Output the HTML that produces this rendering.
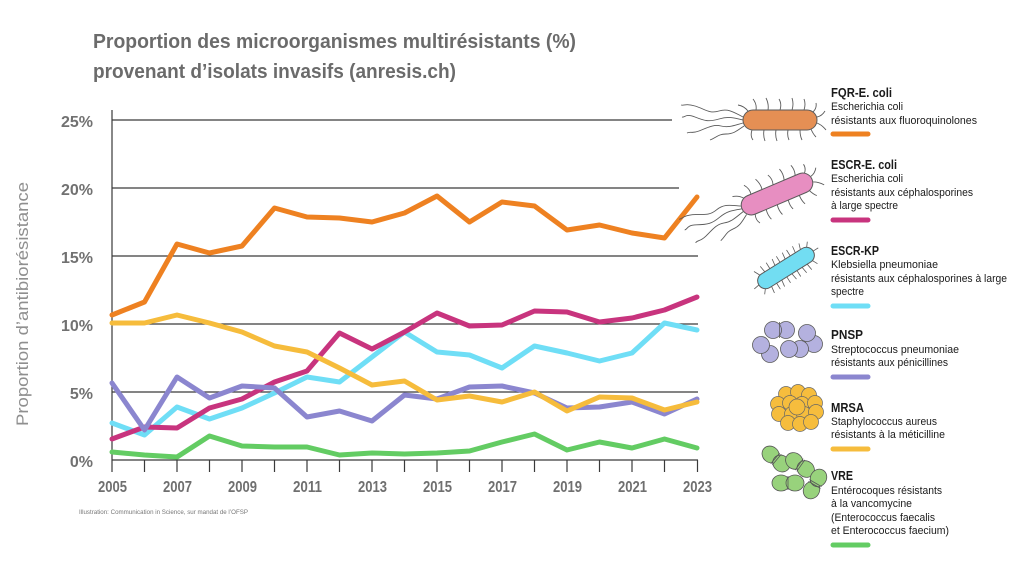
<!DOCTYPE html>
<html><head><meta charset="utf-8"><style>
html,body{margin:0;padding:0;background:#fff;}
svg{display:block;font-family:"Liberation Sans",sans-serif;}
</style></head><body>
<svg width="1024" height="574" viewBox="0 0 1024 574" xmlns="http://www.w3.org/2000/svg">
<rect width="1024" height="574" fill="#fff"/>
<!-- Title -->
<text x="93" y="48" font-size="20" font-weight="bold" fill="#6b6b6b" textLength="483" lengthAdjust="spacingAndGlyphs">Proportion des microorganismes multirésistants (%)</text>
<text x="93" y="78" font-size="20" font-weight="bold" fill="#6b6b6b" textLength="363" lengthAdjust="spacingAndGlyphs">provenant d’isolats invasifs (anresis.ch)</text>

<!-- Y axis label -->
<text transform="translate(28,304) rotate(-90)" text-anchor="middle" font-size="17" fill="#8f8f8f" textLength="244" lengthAdjust="spacingAndGlyphs">Proportion d’antibiorésistance</text>

<!-- gridlines -->
<g stroke="#3a3a3a" stroke-width="1.2">
<line x1="112" y1="120" x2="672" y2="120"/>
<line x1="112" y1="188" x2="679" y2="188"/>
<line x1="112" y1="256" x2="698" y2="256"/>
<line x1="112" y1="324" x2="698" y2="324"/>
<line x1="112" y1="392" x2="698" y2="392"/>
<line x1="112" y1="460" x2="698" y2="460"/>
<line x1="112" y1="110" x2="112" y2="472"/>
<line x1="144.5" y1="460" x2="144.5" y2="472"/>
<line x1="177" y1="460" x2="177" y2="472"/>
<line x1="209.5" y1="460" x2="209.5" y2="472"/>
<line x1="242" y1="460" x2="242" y2="472"/>
<line x1="274.5" y1="460" x2="274.5" y2="472"/>
<line x1="307" y1="460" x2="307" y2="472"/>
<line x1="339.5" y1="460" x2="339.5" y2="472"/>
<line x1="372" y1="460" x2="372" y2="472"/>
<line x1="404.5" y1="460" x2="404.5" y2="472"/>
<line x1="437" y1="460" x2="437" y2="472"/>
<line x1="469.5" y1="460" x2="469.5" y2="472"/>
<line x1="502" y1="460" x2="502" y2="472"/>
<line x1="534.5" y1="460" x2="534.5" y2="472"/>
<line x1="567" y1="460" x2="567" y2="472"/>
<line x1="599.5" y1="460" x2="599.5" y2="472"/>
<line x1="632" y1="460" x2="632" y2="472"/>
<line x1="664.5" y1="460" x2="664.5" y2="472"/>
<line x1="697.5" y1="460" x2="697.5" y2="472"/>
</g>

<!-- Y tick labels -->
<g font-size="16" font-weight="bold" fill="#717171" text-anchor="end">
<text x="93" y="127">25%</text>
<text x="93" y="195">20%</text>
<text x="93" y="263">15%</text>
<text x="93" y="331">10%</text>
<text x="93" y="399">5%</text>
<text x="93" y="467">0%</text>
</g>

<!-- X tick labels -->
<g font-size="16" font-weight="bold" fill="#6f6f6f">
<text x="98" y="492" textLength="29" lengthAdjust="spacingAndGlyphs">2005</text>
<text x="163" y="492" textLength="29" lengthAdjust="spacingAndGlyphs">2007</text>
<text x="228" y="492" textLength="29" lengthAdjust="spacingAndGlyphs">2009</text>
<text x="293" y="492" textLength="29" lengthAdjust="spacingAndGlyphs">2011</text>
<text x="358" y="492" textLength="29" lengthAdjust="spacingAndGlyphs">2013</text>
<text x="423" y="492" textLength="29" lengthAdjust="spacingAndGlyphs">2015</text>
<text x="488" y="492" textLength="29" lengthAdjust="spacingAndGlyphs">2017</text>
<text x="553" y="492" textLength="29" lengthAdjust="spacingAndGlyphs">2019</text>
<text x="618" y="492" textLength="29" lengthAdjust="spacingAndGlyphs">2021</text>
<text x="683" y="492" textLength="29" lengthAdjust="spacingAndGlyphs">2023</text>
</g>

<text x="79" y="514" font-size="6" fill="#777" textLength="169" lengthAdjust="spacingAndGlyphs">Illustration: Communication in Science, sur mandat de l’OFSP</text>

<!-- Series -->
<g fill="none" stroke-width="5" stroke-linejoin="round" stroke-linecap="round">
<polyline stroke="#63CC63" points="112,452 144.5,455 177,457 209.5,436 242,446 274.5,447 307,447 339.5,455 372,453 404.5,454 437,453 469.5,451 502,442 534.5,434 567,450 599.5,442 632,448 664.5,439 697,448"/>
<polyline stroke="#6FDEF6" points="112,423 144.5,435 177,407 209.5,419 242,408 274.5,393 307,377 339.5,382 372,357 404.5,332 437,352 469.5,355 502,368 534.5,346 567,353 599.5,361 632,353 664.5,323 697,330"/>
<polyline stroke="#C8347E" points="112,439 144.5,427 177,428 209.5,408 242,399 274.5,382 307,371 339.5,333 372,349 404.5,332 437,313 469.5,326 502,325 534.5,311 567,312 599.5,322 632,318 664.5,310 697,297"/>
<polyline stroke="#8B86CF" points="112,383 144.5,430 177,377 209.5,398 242,386 274.5,388 307,417 339.5,411 372,421 404.5,395 437,399 469.5,387 502,386 534.5,393 567,408 599.5,407 632,402 664.5,414 697,399"/>
<polyline stroke="#F6BC3C" points="112,323 144.5,323 177,315 209.5,323 242,332 274.5,346 307,352 339.5,368 372,385 404.5,381 437,400 469.5,396 502,402 534.5,392 567,411 599.5,397 632,398 664.5,410 697,402"/>
<polyline stroke="#EE8121" points="112,315 144.5,302 177,244 209.5,253 242,246 274.5,208 307,217 339.5,218 372,222 404.5,213 437,196 469.5,222 502,202 534.5,206 567,230 599.5,225 632,233 664.5,238 697,197"/>
</g>

<!-- Legend text -->
<g fill="#1a1a1a">
<text x="831" y="97" font-size="12.5" font-weight="bold" textLength="61" lengthAdjust="spacingAndGlyphs">FQR-E. coli</text>
<text x="831" y="110" font-size="11" textLength="72" lengthAdjust="spacingAndGlyphs">Escherichia coli</text>
<text x="831" y="124" font-size="11" textLength="146" lengthAdjust="spacingAndGlyphs">résistants aux fluoroquinolones</text>

<text x="831" y="169" font-size="12.5" font-weight="bold" textLength="66" lengthAdjust="spacingAndGlyphs">ESCR-E. coli</text>
<text x="831" y="182" font-size="11" textLength="72" lengthAdjust="spacingAndGlyphs">Escherichia coli</text>
<text x="831" y="196" font-size="11" textLength="142" lengthAdjust="spacingAndGlyphs">résistants aux céphalosporines</text>
<text x="831" y="209" font-size="11" textLength="67" lengthAdjust="spacingAndGlyphs">à large spectre</text>

<text x="831" y="255" font-size="12.5" font-weight="bold" textLength="48" lengthAdjust="spacingAndGlyphs">ESCR-KP</text>
<text x="831" y="268" font-size="11" textLength="107" lengthAdjust="spacingAndGlyphs">Klebsiella pneumoniae</text>
<text x="831" y="282" font-size="11" textLength="176" lengthAdjust="spacingAndGlyphs">résistants aux céphalosporines à large</text>
<text x="831" y="295" font-size="11" textLength="33" lengthAdjust="spacingAndGlyphs">spectre</text>

<text x="831" y="339" font-size="12.5" font-weight="bold" textLength="32" lengthAdjust="spacingAndGlyphs">PNSP</text>
<text x="831" y="353" font-size="11" textLength="128" lengthAdjust="spacingAndGlyphs">Streptococcus pneumoniae</text>
<text x="831" y="366" font-size="11" textLength="117" lengthAdjust="spacingAndGlyphs">résistants aux pénicillines</text>

<text x="831" y="412" font-size="12.5" font-weight="bold" textLength="33" lengthAdjust="spacingAndGlyphs">MRSA</text>
<text x="831" y="425" font-size="11" textLength="106" lengthAdjust="spacingAndGlyphs">Staphylococcus aureus</text>
<text x="831" y="438" font-size="11" textLength="114" lengthAdjust="spacingAndGlyphs">résistants à la méticilline</text>

<text x="831" y="480" font-size="12.5" font-weight="bold" textLength="22" lengthAdjust="spacingAndGlyphs">VRE</text>
<text x="831" y="494" font-size="11" textLength="111" lengthAdjust="spacingAndGlyphs">Entérocoques résistants</text>
<text x="831" y="507" font-size="11" textLength="81" lengthAdjust="spacingAndGlyphs">à la vancomycine</text>
<text x="831" y="521" font-size="11" textLength="104" lengthAdjust="spacingAndGlyphs">(Enterococcus faecalis</text>
<text x="831" y="534" font-size="11" textLength="118" lengthAdjust="spacingAndGlyphs">et Enterococcus faecium)</text>
</g>

<!-- Legend bars -->
<g stroke-width="5" stroke-linecap="round">
<line x1="833" y1="134" x2="868" y2="134" stroke="#EE8121"/>
<line x1="833" y1="220" x2="868" y2="220" stroke="#C8347E"/>
<line x1="833" y1="306" x2="868" y2="306" stroke="#6FDEF6"/>
<line x1="833" y1="377" x2="868" y2="377" stroke="#8B86CF"/>
<line x1="833" y1="449" x2="868" y2="449" stroke="#F6BC3C"/>
<line x1="833" y1="545" x2="868" y2="545" stroke="#63CC63"/>
</g>

<!-- Orange rod -->
<g transform="translate(780,120)" stroke="#5a5a5a" stroke-width="0.9" fill="none">
<path d="M-37,-3 c-8,-4 -14,-9 -24,-6 s-14,-2 -24,-5 s-10,0 -14,-1"/>
<path d="M-37,0 c-8,-2 -14,-4 -24,-1 s-14,2 -24,-2 s-10,1 -13,0"/>
<path d="M-37,3 c-8,2 -14,5 -22,3 s-14,2 -22,5 s-8,0 -12,2"/>
<path d="M-36,6 c-6,4 -10,8 -18,8 s-10,4 -16,6"/>
<path d="M-32,-9 q-4,-5 -10,-6 M-24,-10 q1,-6 -3,-11 M-12,-10 q1,-6 -2,-12 M0,-10 q2,-6 -1,-11 M12,-10 q2,-6 0,-12 M24,-10 q2,-6 0,-11 M33,-8 q4,-4 3,-9"/>
<path d="M-28,10 q-2,6 1,10 M-16,10 q-1,6 1,11 M-4,10 q-1,6 1,11 M8,10 q-1,6 1,10 M20,10 q0,6 2,10 M31,9 q2,5 5,8 M37,3 q5,2 9,7 M37,-3 q5,-1 8,-6"/>
<rect x="-37" y="-10" width="74" height="20" rx="10" fill="#E58F54" stroke-width="1"/>
</g>

<!-- Pink rod -->
<g transform="translate(777,194) rotate(-23)" stroke="#5a5a5a" stroke-width="0.9" fill="none">
<path d="M-38,-3 c-8,-4 -14,-9 -24,-6 s-14,-2 -24,-5 s-10,0 -14,-1"/>
<path d="M-38,0 c-8,-2 -14,-4 -24,-1 s-14,2 -24,-2 s-10,1 -13,0"/>
<path d="M-38,3 c-8,2 -14,5 -22,3 s-14,2 -22,5 s-8,0 -12,2"/>
<path d="M-36,7 c-6,4 -10,8 -18,8 s-10,4 -16,6"/>
<path d="M-32,-9 q-4,-5 -10,-6 M-24,-10 q1,-6 -3,-11 M-12,-10 q1,-6 -2,-12 M0,-10 q2,-6 -1,-11 M12,-10 q2,-6 0,-12 M24,-10 q2,-6 0,-11 M33,-8 q4,-4 3,-9"/>
<path d="M-28,10 q-2,6 1,10 M-16,10 q-1,6 1,11 M-4,10 q-1,6 1,11 M8,10 q-1,6 1,10 M20,10 q0,6 2,10 M31,9 q2,5 5,8 M38,3 q5,2 9,7 M38,-3 q5,-1 8,-6"/>
<rect x="-38" y="-10" width="76" height="20" rx="10" fill="#E78EC1" stroke-width="1"/>
</g>

<!-- Cyan rod -->
<g transform="translate(786,268) rotate(-32)" stroke="#5a5a5a" stroke-width="0.8" fill="none">
<path d="M-26,-8 l-3,-6 M-20,-8 l-1,-7 M-14,-8 l0,-7 M-8,-8 l1,-7 M-2,-8 l0,-7 M4,-8 l1,-7 M10,-8 l0,-7 M16,-8 l1,-7 M22,-8 l2,-6 M28,-6 l4,-5"/>
<path d="M-28,6 l-4,5 M-22,8 l-1,7 M-16,8 l0,7 M-10,8 l-1,7 M-4,8 l0,7 M2,8 l1,7 M8,8 l0,7 M14,8 l1,7 M20,8 l1,7 M26,7 l3,6 M32,0 l6,0 M-32,0 l-6,1"/>
<rect x="-32" y="-8" width="64" height="16" rx="8" fill="#72DDF2" stroke-width="1"/>
</g>

<!-- Purple cocci -->
<g fill="#B4B1DF" stroke="#5a5a5a" stroke-width="0.8">
<circle cx="786" cy="330" r="8.5"/><circle cx="773" cy="330" r="8.5"/>
<line x1="779.5" y1="322" x2="779.5" y2="338"/>
<circle cx="814" cy="344" r="8.5"/><circle cx="807" cy="333" r="8.5"/>
<circle cx="770" cy="354" r="8.5"/><circle cx="761" cy="345" r="8.5"/>
<circle cx="800" cy="349" r="8.5"/><circle cx="789" cy="349" r="8.5"/>
</g>

<!-- Yellow cluster -->
<g fill="#F6BD3D" stroke="#666" stroke-width="0.7">
<circle cx="786" cy="394" r="7.5"/><circle cx="798" cy="392" r="7.5"/><circle cx="809" cy="395" r="7.5"/>
<circle cx="778" cy="404" r="7.5"/><circle cx="790" cy="403" r="7.5"/><circle cx="802" cy="404" r="7.5"/><circle cx="815" cy="403" r="7.5"/>
<circle cx="779" cy="414" r="7.5"/><circle cx="792" cy="414" r="7.5"/><circle cx="804" cy="414" r="7.5"/><circle cx="816" cy="412" r="7.5"/>
<circle cx="788" cy="423" r="7.5"/><circle cx="800" cy="424" r="7.5"/><circle cx="811" cy="422" r="7.5"/>
<circle cx="797" cy="407" r="8"/>
</g>

<!-- Green diplococci -->
<g fill="#98D27C" stroke="#555" stroke-width="0.8">
<g transform="translate(776,459) rotate(40)"><ellipse cx="-7" cy="0" rx="9" ry="8"/><ellipse cx="7" cy="0" rx="9" ry="8"/><line x1="-1" y1="-7" x2="-1" y2="7"/><line x1="1" y1="-7" x2="1" y2="7"/></g>
<g transform="translate(800,465) rotate(35)"><ellipse cx="-7" cy="0" rx="9" ry="8"/><ellipse cx="7" cy="0" rx="9" ry="8"/><line x1="-1" y1="-7" x2="-1" y2="7"/><line x1="1" y1="-7" x2="1" y2="7"/></g>
<g transform="translate(788,483) rotate(0)"><ellipse cx="-7" cy="0" rx="9" ry="8"/><ellipse cx="7" cy="0" rx="9" ry="8"/><line x1="0" y1="-7" x2="0" y2="7"/></g>
<g transform="translate(815,484) rotate(-60)"><ellipse cx="-7" cy="0" rx="9" ry="8"/><ellipse cx="7" cy="0" rx="9" ry="8"/><line x1="-1" y1="-7" x2="-1" y2="7"/><line x1="1" y1="-7" x2="1" y2="7"/></g>
</g>
</svg>
</body></html>
